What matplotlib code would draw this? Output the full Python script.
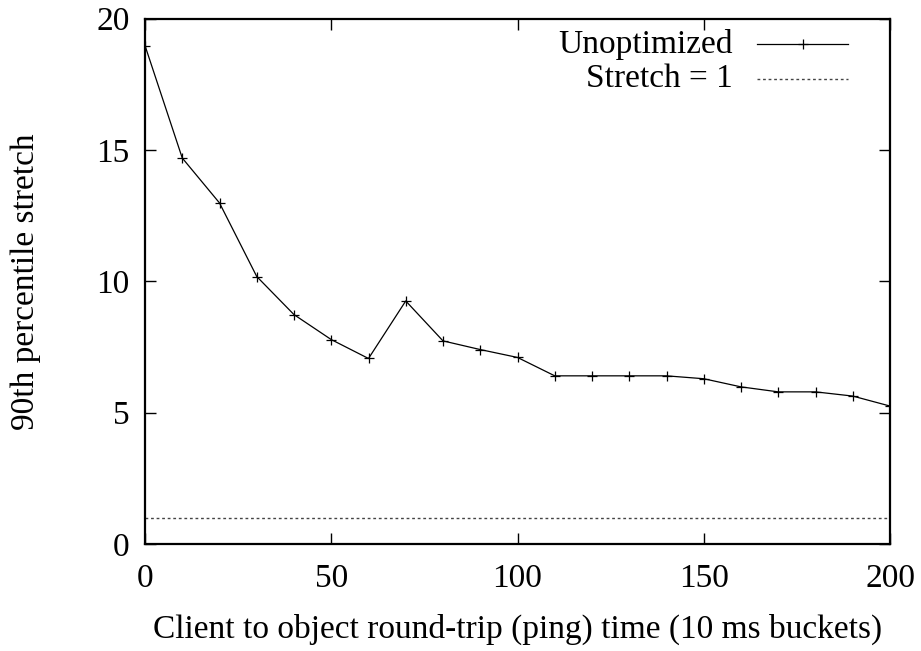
import matplotlib
matplotlib.use("Agg")
import matplotlib.pyplot as plt

x_vals = [0, 10, 20, 30, 40, 50, 60, 70, 80, 90, 100, 110, 120, 130, 140, 150, 160, 170, 180, 190, 200]
unoptimized = [18.97, 14.69, 12.98, 10.18, 8.73, 7.78, 7.06, 9.25, 7.73, 7.40, 7.10, 6.40, 6.40, 6.40, 6.40, 6.29, 5.98, 5.79, 5.79, 5.63, 5.25]
stretch_one = 1.0
x_ticks = [0, 50, 100, 150, 200]
y_ticks = [0, 5, 10, 15, 20]
labels = ["Unoptimized", "Stretch = 1"]

plt.rcParams['font.family'] = ['Liberation Serif', 'DejaVu Serif']

fig = plt.figure(figsize=(9.21, 6.51), dpi=100)
ax = fig.add_axes([145/921, 1-544/651, (890-145)/921, (544-18.5)/651])

ax.plot(x_vals, unoptimized, color='black', lw=0.9, marker='+', ms=7, mew=0.9)
ax.axhline(stretch_one, color='#444444', lw=1.0, ls=(0, (2, 2)))

ax.set_xlim(0, 200)
ax.set_ylim(0, 20)
ax.set_xticks(x_ticks)
ax.set_yticks(y_ticks)
ax.tick_params(direction='in', length=8, width=1, top=True, right=True, labelsize=24, pad=11)
ax.tick_params(axis='x', pad=14)
for s in ax.spines.values():
    s.set_linewidth(1.6)

ax.set_xlabel("Client to object round-trip (ping) time (10 ms buckets)", fontsize=24, labelpad=14)
ax.set_ylabel("90th percentile stretch", fontsize=24, labelpad=40)

# legend (gnuplot style: right-aligned text, sample on the right)
tx = (733-145)/745
l0, l1 = (757-145)/745, (848-145)/745
y0, y1 = (544-44)/525.5, (544-79)/525.5
ax.text(tx, y0, labels[0], transform=ax.transAxes, ha='right', va='center', fontsize=24)
ax.text(tx, y1, labels[1], transform=ax.transAxes, ha='right', va='center', fontsize=24)
ax.plot([l0, l1], [y0, y0], transform=ax.transAxes, color='black', lw=0.9)
ax.plot([(l0+l1)/2], [y0], transform=ax.transAxes, color='black', marker='+', ms=7, mew=0.9)
ax.plot([l0, l1], [y1, y1], transform=ax.transAxes, color='#444444', lw=1.0, ls=(0, (2, 2)))

fig.savefig("out.png", dpi=100)
